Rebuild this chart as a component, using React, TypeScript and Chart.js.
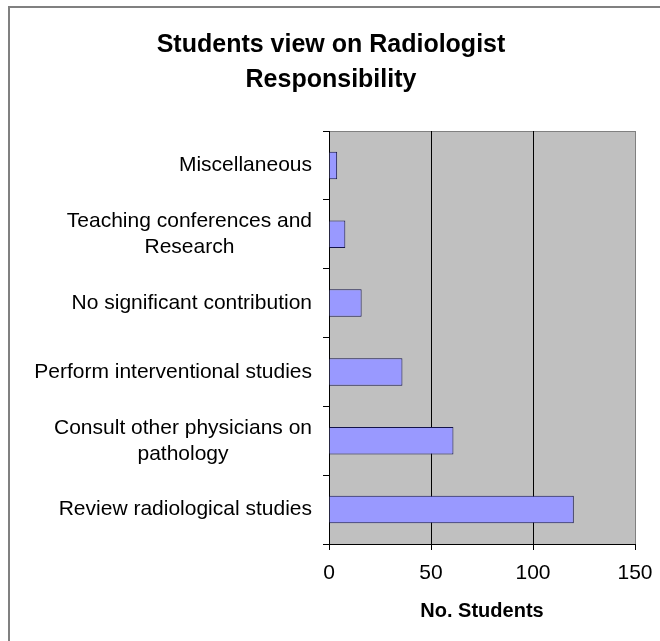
import { useEffect, useRef } from 'react';
import { Chart, registerables } from 'chart.js';

Chart.register(...registerables);

const FONT = '"Liberation Sans", Arial, Helvetica, sans-serif';

const categories: string[][] = [
  ['Miscellaneous'],
  ['Teaching conferences and', 'Research'],
  ['No significant contribution'],
  ['Perform interventional studies'],
  ['Consult other physicians on', 'pathology'],
  ['Review radiological studies'],
];
const students = [4, 8, 16, 36, 61, 120];
const xTickValues = [0, 50, 100, 150];
const titleLines = ['Students view on Radiologist', 'Responsibility'];
const xAxisTitle = 'No. Students';

const backgroundPlugin = {
  id: 'bgFrame',
  beforeDraw(chart: any) {
    const { ctx, chartArea: a } = chart;
    ctx.save();
    ctx.fillStyle = '#ffffff';
    ctx.fillRect(0, 0, chart.width, chart.height);
    ctx.strokeStyle = '#808080';
    ctx.lineWidth = 2;
    ctx.strokeRect(9, 7, chart.width + 40, chart.height + 40);
    ctx.fillStyle = '#c0c0c0';
    ctx.fillRect(a.left, a.top, a.right - a.left, a.bottom - a.top);
    ctx.strokeStyle = '#808080';
    ctx.lineWidth = 1;
    ctx.strokeRect(a.left + 0.5, a.top + 0.5, a.right - a.left, a.bottom - a.top);
    // title
    ctx.fillStyle = '#000';
    ctx.font = `bold 25px ${FONT}`;
    ctx.textAlign = 'center';
    ctx.textBaseline = 'alphabetic';
    const cx = chart.width / 2 + 1;
    titleLines.forEach((t, i) => ctx.fillText(t, cx, 52 + i * 35));
    ctx.restore();
  },
};

const yLabelPlugin = {
  id: 'yLabels',
  afterDraw(chart: any) {
    const ys = chart.scales.y;
    const ctx = chart.ctx;
    ctx.save();
    ctx.font = `21px ${FONT}`;
    ctx.fillStyle = '#000';
    ctx.textAlign = 'center';
    ctx.textBaseline = 'middle';
    const right = chart.chartArea.left - 17;
    const lh = 26;
    categories.forEach((lines, i) => {
      const y = ys.getPixelForTick(i);
      const w = Math.max(...lines.map((l) => ctx.measureText(l).width));
      const cx = right - w / 2;
      lines.forEach((l, j) => ctx.fillText(l, cx, y + (j - (lines.length - 1) / 2) * lh));
    });
    ctx.restore();
  },
};

export default function App() {
  const ref = useRef<HTMLCanvasElement>(null);
  useEffect(() => {
    if (!ref.current) return;
    const chart = new Chart(ref.current, {
      type: 'bar',
      data: {
        labels: categories,
        datasets: [
          {
            label: xAxisTitle,
            data: students,
            backgroundColor: '#9999ff',
            borderColor: '#14144a',
            borderWidth: 1,
            borderSkipped: 'start',
            barPercentage: 0.4,
            categoryPercentage: 1,
          },
        ],
      },
      options: {
        indexAxis: 'y',
        responsive: false,
        animation: false,
        layout: { padding: { left: 0, right: 25, top: 131, bottom: 15 } },
        plugins: {
          legend: { display: false },
          title: { display: false },
          tooltip: { enabled: false },
        },
        scales: {
          x: {
            min: 0,
            max: 150,
            afterBuildTicks: (scale: any) => {
              scale.ticks = xTickValues.map((v) => ({ value: v }));
            },
            afterFit: (scale: any) => {
              scale.height = 82;
              scale.paddingLeft = 0;
              scale.paddingRight = 0;
            },
            grid: {
              color: (c: any) => (c.tick && c.tick.value === 150 ? '#808080' : '#000000'),
              tickColor: '#000000',
              tickLength: 6,
              lineWidth: 1,
            },
            border: { color: '#000000', width: 1 },
            ticks: {
              font: { family: FONT, size: 21 },
              color: '#000',
              padding: 11,
              maxRotation: 0,
            },
            title: {
              display: true,
              text: xAxisTitle,
              font: { family: FONT, size: 20, weight: 'bold' },
              color: '#000',
              padding: { top: 4, bottom: 3 },
            },
          },
          y: {
            afterFit: (scale: any) => {
              scale.width = 329;
              scale.paddingTop = 0;
              scale.paddingBottom = 0;
            },
            grid: {
              drawOnChartArea: false,
              color: '#000000',
              tickLength: 6,
              offset: true,
            },
            border: { color: '#000000', width: 1 },
            ticks: { display: false },
          },
        },
      },
      plugins: [backgroundPlugin, yLabelPlugin],
    });
    return () => chart.destroy();
  }, []);
  return (
    <div style={{ position: 'fixed', left: 0, top: 0, width: 660, height: 641 }}>
      <canvas ref={ref} width={660} height={641} style={{ display: 'block' }} />
    </div>
  );
}
